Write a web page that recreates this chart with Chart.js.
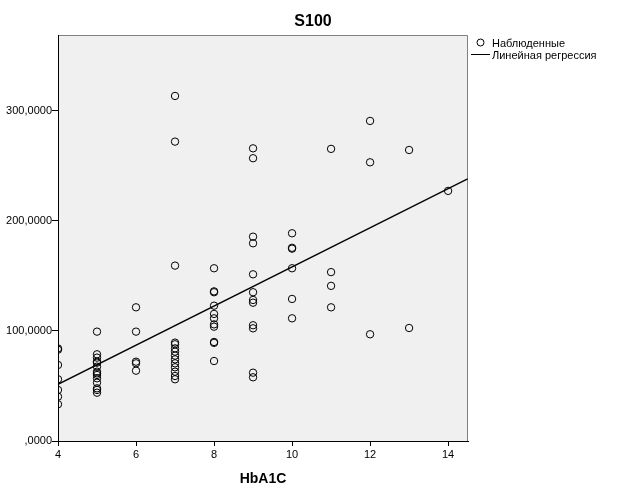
<!DOCTYPE html>
<html>
<head>
<meta charset="utf-8">
<script src="https://cdn.jsdelivr.net/npm/chart.js@4.4.0/dist/chart.umd.min.js"></script>
<style>
  html, body { margin: 0; padding: 0; background: #fff; }
  #wrap { width: 626px; height: 501px; position: relative; }
</style>
</head>
<body>
<div id="wrap"><canvas id="scatter"></canvas></div>
<script>
var hba1c = [
  4,4,4,4,4,4,4,
  5,5,5,5,5,5,5,5,5,5,5,5,5,5,
  6,6,6,6,6,
  7,7,7,7,7,7,7,7,7,7,7,7,7,7,
  8,8,8,8,8,8,8,8,8,8,8,
  9,9,9,9,9,9,9,9,9,9,9,9,
  10,10,10,10,10,10,
  11,11,11,11,
  12,12,12,
  13,13,
  14
];
var s100 = [
  84.1,83.0,69.1,56.1,46.4,40.3,33.4,
  99.4,78.8,75.8,72.1,71.2,67.6,63.0,61.5,60.0,57.0,53.0,47.9,46.4,43.9,
  121.5,99.4,72.1,70.6,63.9,
  313.6,272.1,159.4,89.4,87.9,84.2,81.2,77.6,74.2,70.6,67.0,63.0,59.1,56.1,
  157.0,136.0,135.2,123.0,115.5,111.5,106.0,103.9,90.0,89.2,72.7,
  266.0,257.0,185.7,179.7,151.5,135.2,128.2,125.7,105.2,102.4,62.1,57.9,
  188.8,175.6,174.8,157.0,129.1,111.5,
  265.5,153.5,141.0,121.5,
  290.9,253.3,97.0,
  264.5,102.7,
  227.3
];
// regression line end points
var regX = [4, 14.5];
var regY = [51.5, 238.2];

var xTicks = [4, 6, 8, 10, 12, 14];
var yTicks = [0, 100, 200, 300];

var chartTitle = "S100";
var xTitle = "HbA1C";
var obsLabel = "Наблюденные";
var regLabel = "Линейная регрессия";

var obsPoints = hba1c.map(function(x, i){ return {x: x, y: s100[i]}; });
var regPoints = regX.map(function(x, i){ return {x: x, y: regY[i]}; });

var FONT = "'Liberation Sans', Arial, sans-serif";

function fmtY(v){
  var s = v.toFixed(4).replace('.', ',');
  return v === 0 ? s.substring(1) : s;
}

var framePlugin = {
  id: 'frame',
  beforeDraw: function(chart){
    var a = chart.chartArea, c = chart.ctx;
    c.save();
    c.fillStyle = '#f0f0f0';
    c.fillRect(a.left, a.top, a.right - a.left, a.bottom - a.top);
    c.strokeStyle = '#808080';
    c.lineWidth = 1;
    c.beginPath();
    c.moveTo(a.left, a.top + 0.5);
    c.lineTo(a.right - 0.5, a.top + 0.5);
    c.lineTo(a.right - 0.5, a.bottom);
    c.stroke();
    c.restore();
  },
  afterDraw: function(chart){
    var c = chart.ctx;
    c.save();
    c.fillStyle = '#000';
    c.textBaseline = 'middle';
    c.font = "bold 16px " + FONT;
    c.textAlign = 'center';
    c.fillText(chartTitle, 313, 22);
    // legend
    c.font = "11px " + FONT;
    c.textAlign = 'left';
    c.strokeStyle = '#000';
    c.lineWidth = 1;
    c.beginPath();
    c.arc(480.5, 42.5, 3.5, 0, Math.PI * 2);
    c.stroke();
    c.fillText(obsLabel, 492, 43.5);
    c.beginPath();
    c.moveTo(471, 54.5);
    c.lineTo(490, 54.5);
    c.stroke();
    c.fillText(regLabel, 492, 55.5);
    c.restore();
  }
};

new Chart(document.getElementById('scatter'), {
  type: 'scatter',
  data: {
    datasets: [
      {
        label: obsLabel,
        data: obsPoints,
        pointStyle: 'circle',
        pointRadius: 3.7,
        pointBorderWidth: 1,
        borderColor: '#000',
        backgroundColor: 'rgba(0,0,0,0)',
        pointHoverRadius: 3.7
      },
      {
        label: regLabel,
        type: 'line',
        data: regPoints,
        borderColor: '#000',
        borderWidth: 1.3,
        pointRadius: 0,
        fill: false
      }
    ]
  },
  options: {
    responsive: true,
    maintainAspectRatio: false,
    animation: false,
    devicePixelRatio: 1,
    layout: { padding: { left: 0, top: 35, right: 158, bottom: 0 } },
    plugins: {
      legend: { display: false },
      title: { display: false },
      tooltip: { enabled: false }
    },
    scales: {
      x: {
        type: 'linear',
        min: 4,
        max: 14.51,
        afterBuildTicks: function(s){ s.ticks = xTicks.map(function(v){ return {value: v}; }); },
        afterFit: function(s){ s.height = 60; },
        grid: { drawOnChartArea: false, drawTicks: true, tickLength: 5, color: '#000' },
        border: { display: true, color: '#000', width: 1 },
        ticks: { color: '#000', padding: 2, font: { family: FONT, size: 11 }, maxRotation: 0 },
        title: { display: true, text: xTitle, color: '#000', font: { family: FONT, size: 14, weight: 'bold' }, padding: { top: 4, bottom: 13 } }
      },
      y: {
        type: 'linear',
        min: 0,
        max: 369,
        afterBuildTicks: function(s){ s.ticks = yTicks.map(function(v){ return {value: v}; }); },
        afterFit: function(s){ s.width = 58; },
        grid: { drawOnChartArea: false, drawTicks: true, tickLength: 6, color: '#000' },
        border: { display: true, color: '#000', width: 1 },
        ticks: { color: '#000', padding: 0, font: { family: FONT, size: 11 }, callback: fmtY }
      }
    }
  },
  plugins: [framePlugin]
});
</script>
</body>
</html>
